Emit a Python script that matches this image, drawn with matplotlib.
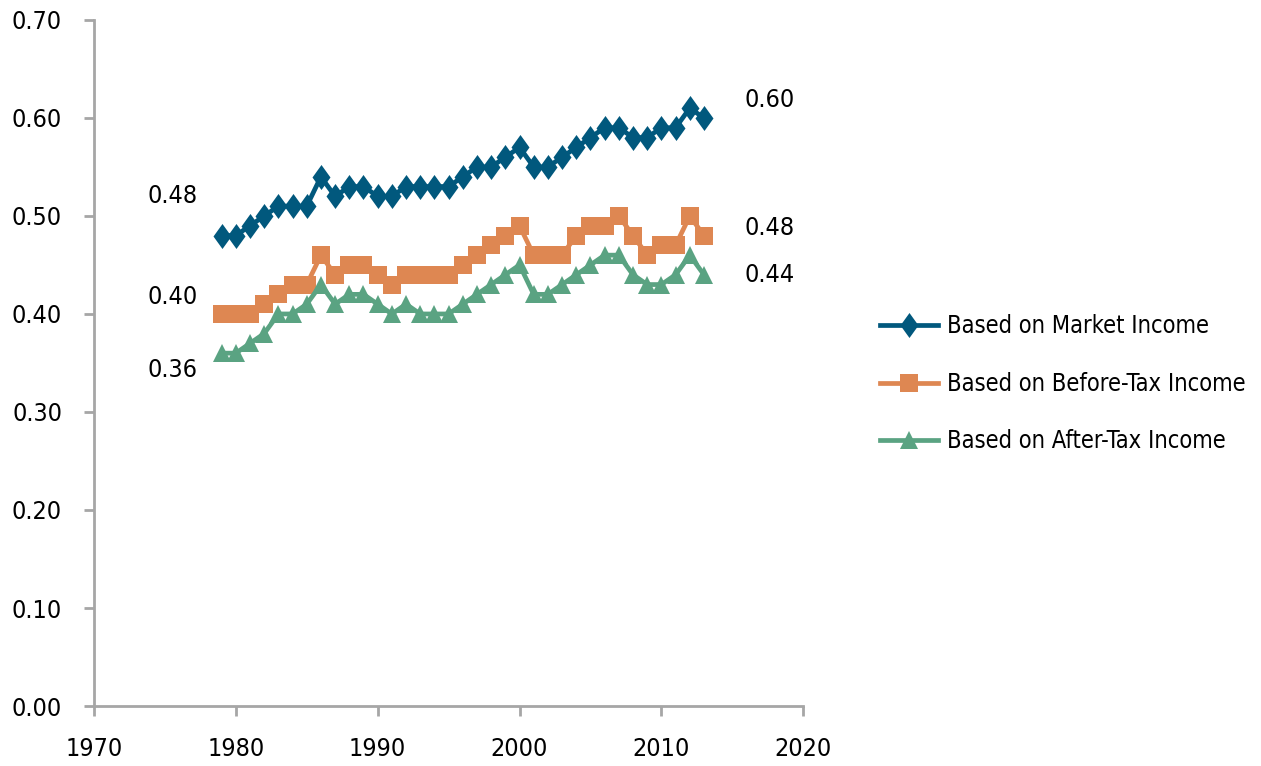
import matplotlib.pyplot as plt
from matplotlib.path import Path

YEARS = list(range(1979, 2014))
MARKET = [0.48, 0.48, 0.49, 0.50, 0.51, 0.51, 0.51, 0.54, 0.52, 0.53,
          0.53, 0.52, 0.52, 0.53, 0.53, 0.53, 0.53, 0.54, 0.55, 0.55,
          0.56, 0.57, 0.55, 0.55, 0.56, 0.57, 0.58, 0.59, 0.59, 0.58,
          0.58, 0.59, 0.59, 0.61, 0.60]
BEFORE_TAX = [0.40, 0.40, 0.40, 0.41, 0.42, 0.43, 0.43, 0.46, 0.44, 0.45,
              0.45, 0.44, 0.43, 0.44, 0.44, 0.44, 0.44, 0.45, 0.46, 0.47,
              0.48, 0.49, 0.46, 0.46, 0.46, 0.48, 0.49, 0.49, 0.50, 0.48,
              0.46, 0.47, 0.47, 0.50, 0.48]
AFTER_TAX = [0.36, 0.36, 0.37, 0.38, 0.40, 0.40, 0.41, 0.43, 0.41, 0.42,
             0.42, 0.41, 0.40, 0.41, 0.40, 0.40, 0.40, 0.41, 0.42, 0.43,
             0.44, 0.45, 0.42, 0.42, 0.43, 0.44, 0.45, 0.46, 0.46, 0.44,
             0.43, 0.43, 0.44, 0.46, 0.44]
LABELS = ["Based on Market Income", "Based on Before-Tax Income", "Based on After-Tax Income"]
X_TICKS = [1970, 1980, 1990, 2000, 2010, 2020]
Y_TICKS = [0.0, 0.1, 0.2, 0.3, 0.4, 0.5, 0.6, 0.7]

COLORS = ["#01587D", "#DE8752", "#5AA382"]
# slightly tall diamond, like the Excel marker
DIAMOND = Path([(0, 1), (0.72, 0), (0, -1), (-0.72, 0), (0, 1)],
               [Path.MOVETO, Path.LINETO, Path.LINETO, Path.LINETO, Path.CLOSEPOLY])
MARKERS = [DIAMOND, "s", "^"]
MARKER_SIZES = [18, 13.5, 12.5]
AXIS_GREY = "#A6A6A6"
# pixel offsets of the start / end value labels from their points
START_OFFSETS = [(-24, 40), (-24, 17), (-24, -17)]
END_OFFSETS = [(41, 18), (41, 8), (41, 0)]

plt.rcParams["font.family"] = ["DejaVu Sans"]
plt.rcParams["font.stretch"] = "condensed"

fig = plt.figure(figsize=(12.61, 7.66), dpi=100)
ax = fig.add_axes([0.0745, 0.0783, 0.5625, 0.8957])

series = [MARKET, BEFORE_TAX, AFTER_TAX]
for values, label, color, marker, ms in zip(series, LABELS, COLORS, MARKERS, MARKER_SIZES):
    ax.plot(YEARS, values, color=color, linewidth=3.4, marker=marker, markersize=ms,
            markeredgewidth=0, label=label)

for values, start_off, end_off in zip(series, START_OFFSETS, END_OFFSETS):
    ax.annotate(f"{values[0]:.2f}", (YEARS[0], values[0]), xytext=start_off,
                textcoords="offset pixels", ha="right", va="center", fontsize=18)
    ax.annotate(f"{values[-1]:.2f}", (YEARS[-1], values[-1]), xytext=end_off,
                textcoords="offset pixels", ha="left", va="center", fontsize=18)

ax.set_xlim(1970, 2020)
ax.set_ylim(0, 0.7)
ax.set_xticks(X_TICKS)
ax.set_yticks(Y_TICKS)
ax.set_yticklabels([f"{v:.2f}" for v in Y_TICKS])
ax.tick_params(axis="both", labelsize=18, color=AXIS_GREY, width=2, length=7)
ax.tick_params(axis="x", pad=15)
ax.tick_params(axis="y", pad=16)

for side in ["top", "right"]:
    ax.spines[side].set_visible(False)
for side in ["left", "bottom"]:
    ax.spines[side].set_color(AXIS_GREY)
    ax.spines[side].set_linewidth(2)

fig.legend(loc="center left", bbox_to_anchor=(0.698, 0.499), frameon=False, fontsize=17,
           borderaxespad=0, borderpad=0, handlelength=2.45, labelspacing=1.42,
           handletextpad=0.4)

fig.savefig("out.png", dpi=100)
